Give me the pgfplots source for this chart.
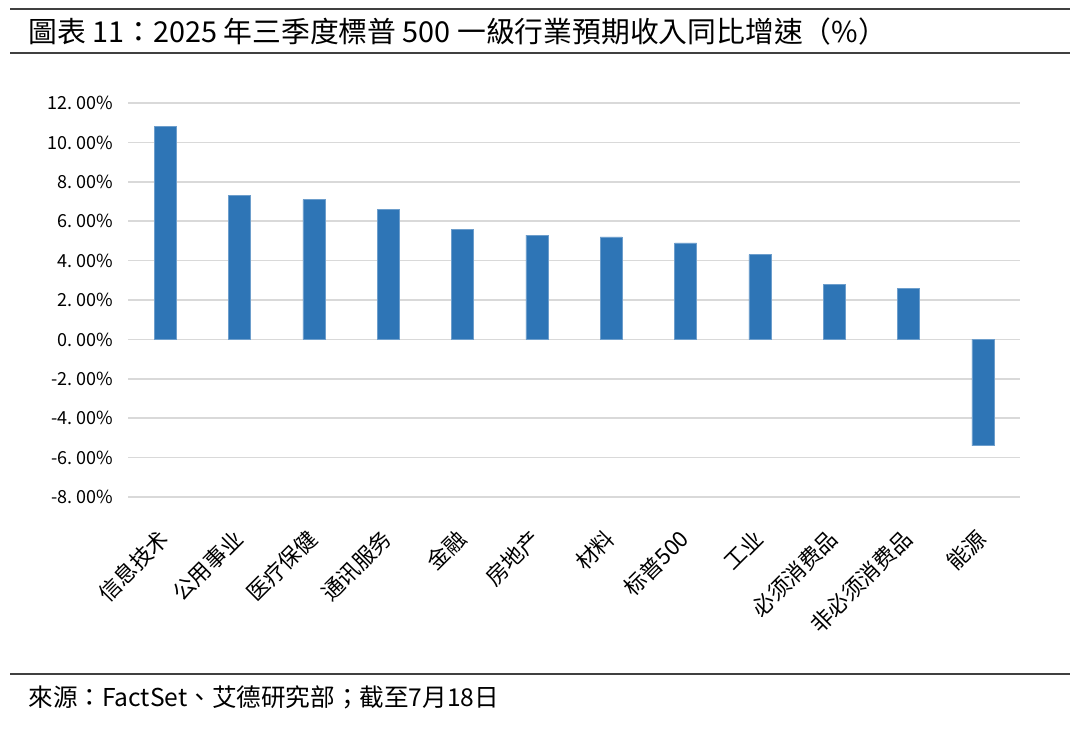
\documentclass[border=0pt]{standalone}
\usepackage{pgfplots}
\pgfplotsset{compat=1.18}
\usepackage{fontspec}
\setmainfont{Liberation Sans}
\newfontfamily\cjk{Noto Sans CJK SC}
\newfontfamily\cjktc{Noto Sans CJK TC}
\definecolor{barblue}{HTML}{2E75B6}
\definecolor{gridgray}{HTML}{D9D9D9}
\definecolor{rulegray}{HTML}{404040}
\newcommand{\pc}[2]{#1.\hspace{0.18em}#2\%}
\begin{document}
\begin{tikzpicture}
\begin{scope}[x=0.5pt,y=-0.5pt]
\path[use as bounding box] (0,0) rectangle (1080,730);
\draw[rulegray, line width=1pt] (10,9) -- (1070,9);
\draw[rulegray, line width=1pt] (10,53) -- (1070,53);
\node[anchor=west, inner sep=0pt, font=\cjktc\fontsize{14.4}{17}\selectfont] at (28,32) {圖表 11：2025 年三季度標普 500 一級行業預期收入同比增速（\%）};
\draw[rulegray, line width=1pt] (10,674) -- (1070,674);
\node[anchor=west, inner sep=0pt, font=\cjktc\fontsize{12.3}{14}\selectfont] at (28,697) {來源：FactSet、艾德研究部；截至7月18日};
\coordinate (ll) at (128,497);
\end{scope}
\begin{axis}[
  at={(ll)}, anchor=south west,
  scale only axis, width=446pt, height=197pt,
  ybar, bar width=11pt,
  xmin=-0.5, xmax=11.5,
  ymin=-8, ymax=12,
  ytick={-8,-6,-4,-2,0,2,4,6,8,10,12},
  yticklabels={\pc{-8}{00},\pc{-6}{00},\pc{-4}{00},\pc{-2}{00},\pc{0}{00},\pc{2}{00},\pc{4}{00},\pc{6}{00},\pc{8}{00},\pc{10}{00},\pc{12}{00}},
  xtick={0,1,2,3,4,5,6,7,8,9,10,11},
  xticklabels={信息技术,公用事业,医疗保健,通讯服务,金融,房地产,材料,标普500,工业,必须消费品,非必须消费品,能源},
  ymajorgrids, grid style={gridgray, line width=0.75pt},
  axis line style={draw=none},
  major tick length=0pt,
  yticklabel style={font=\cjk\fontsize{9}{10}\selectfont, inner sep=0pt, xshift=-7.5pt},
  xticklabel style={yshift=-15pt, xshift=-4pt, rotate=45, anchor=north east, inner sep=0pt, font=\cjk\fontsize{11}{12}\selectfont},
]
\addplot[fill=barblue, draw=barblue!70!white, line width=0.3pt] coordinates {
 (0,10.8) (1,7.3) (2,7.1) (3,6.6) (4,5.6) (5,5.3) (6,5.2) (7,4.9) (8,4.3) (9,2.8) (10,2.6) (11,-5.4)
};
\end{axis}
\end{tikzpicture}
\end{document}
